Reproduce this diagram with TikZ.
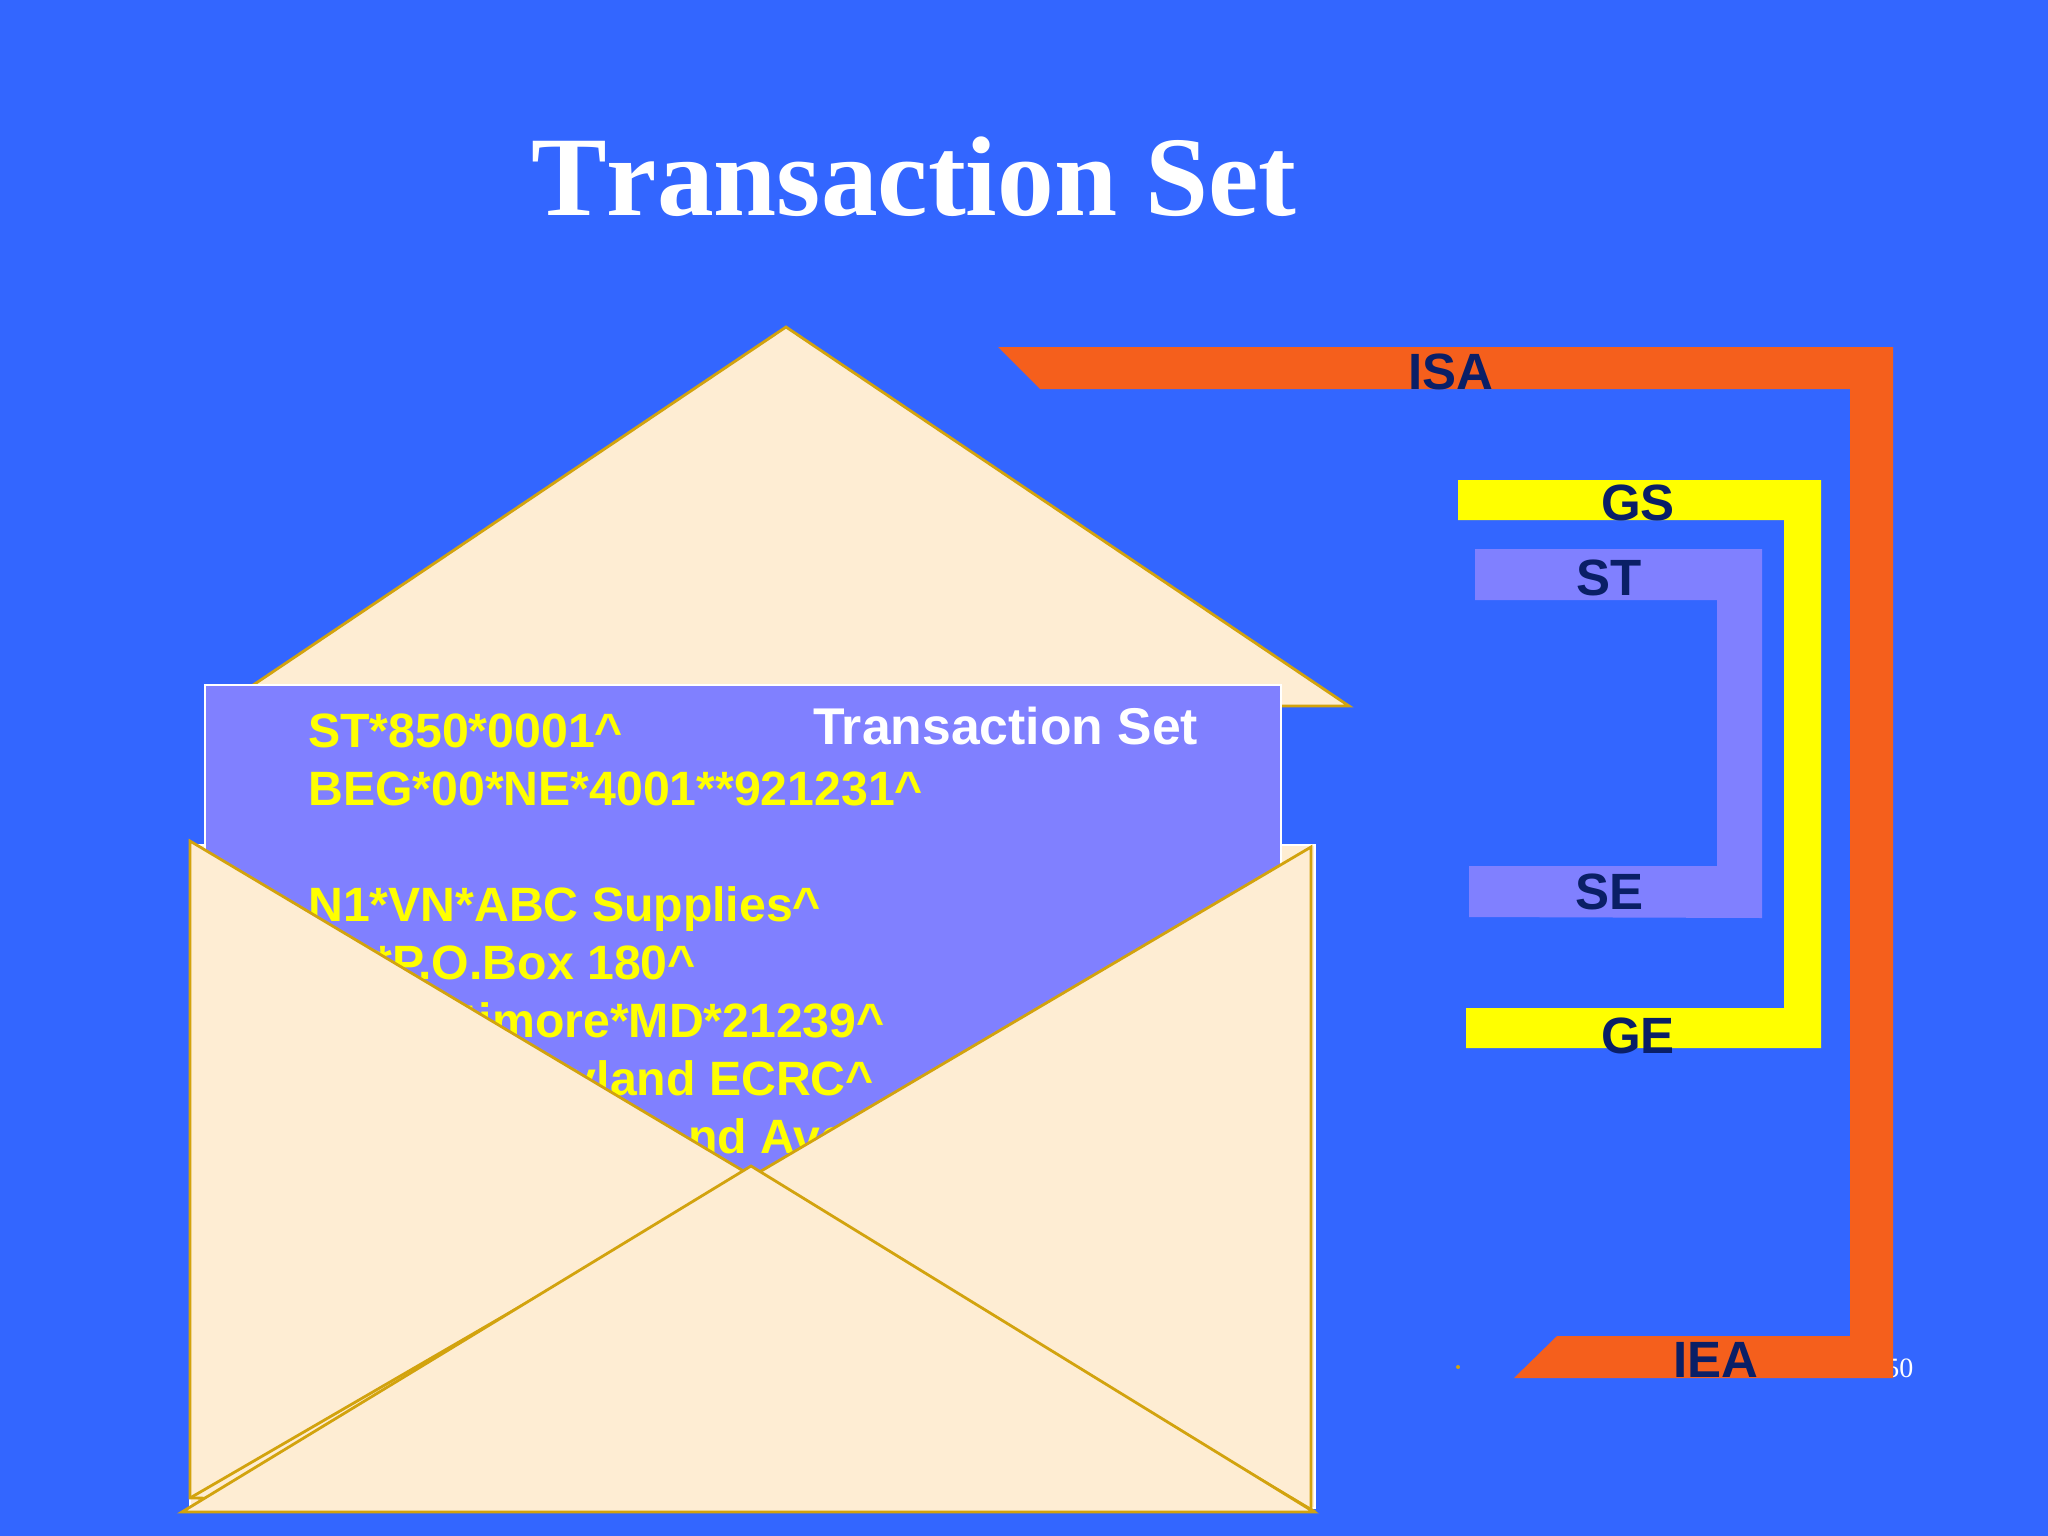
\documentclass[tikz,border=0pt]{standalone}
\usepackage{fontspec}
\setmainfont{Liberation Sans}
\newfontfamily\serifface{Liberation Serif}
\newfontfamily\titleface[Kerning=Off]{Liberation Serif}
\definecolor{bgblue}{HTML}{3366FF}
\definecolor{cream}{HTML}{FEEDD3}
\definecolor{gold}{HTML}{D2A30E}
\definecolor{violet}{HTML}{8080FF}
\definecolor{isaorange}{HTML}{F55F1C}
\definecolor{navy}{HTML}{0A1F66}
\definecolor{signyellow}{HTML}{FFFF00}
\tikzset{
  paper/.style={fill=cream,draw=gold,line width=2.8pt,line join=miter},
  payload/.style={inner sep=0pt,font=\fontsize{48.2}{58}\selectfont\bfseries,text=signyellow},
  barlabel/.style={inner sep=0pt,font=\fontsize{51}{58}\selectfont\bfseries,text=navy},
}
\begin{document}
\begin{tikzpicture}[x=1pt,y=-1pt]
\useasboundingbox (0,0) rectangle (2048,1536);
\fill[bgblue] (0,0) rectangle (2048,1536);
% title
\node[inner sep=0pt,anchor=base west,text=white,font=\titleface\fontsize{113.4}{130}\selectfont\bfseries] (title) at (531,215.5) {Transaction Set};
% page number, partly behind the bar
\node[inner sep=0pt,anchor=base east,text=white,font=\serifface\fontsize{28}{32}\selectfont] (pageno) at (1913.5,1377) {50};
\fill[gold] (1458,1367) circle (2pt);
% envelope back and top flap
\draw[fill=cream,draw=white,line width=2pt] (190,845) rectangle (1315,1508);
\draw[paper] (222,706) -- (786,327) -- (1349,706) -- cycle;
% letter sheet
\draw[fill=violet,draw=white,line width=2.5pt] (205,685) rectangle (1281,1200);
\node[payload,anchor=base west] (l1) at (308,747) {ST*850*0001\^{}};
\node[payload,anchor=base west] (l2) at (308,805) {BEG*00*NE*4001**921231\^{}};
\node[payload,anchor=base west] (l3) at (308,921) {N1*VN*ABC Supplies\^{}};
\node[payload,anchor=base east] (l4) at (696,979) {*P.O.Box 180\^{}};
\node[payload,anchor=base east] (l5) at (885,1037) {timore*MD*21239\^{}};
\node[payload,anchor=base east] (l6) at (874,1095) {yland ECRC\^{}};
\node[payload,anchor=base west] (l7) at (688,1153) {nd Ave};
\node[inner sep=0pt,anchor=base west,text=white,font=\fontsize{51.7}{60}\selectfont\bfseries] (tset) at (813,744) {Transaction Set};
% envelope front flaps
\draw[paper] (1311,847) -- (186,1510) -- (1311,1510) -- cycle;
\draw[paper] (190,841) -- (1312,1510) -- (190,1498) -- cycle;
\coordinate (foldA) at (190,1498);
\coordinate (foldB) at (590,1266);
\draw[draw=gold,line width=2.8pt] (foldA) -- (foldB);
\draw[paper] (182,1512) -- (751,1166) -- (1314,1512) -- cycle;
% nested segment brackets
\fill[isaorange] (998,347) -- (1893,347) -- (1893,1378) -- (1514,1378) -- (1557,1336) -- (1850,1336) -- (1850,389) -- (1040,389) -- cycle;
\fill[signyellow] (1458,480) -- (1821,480) -- (1821,1048) -- (1466,1048) -- (1466,1008) -- (1784,1008) -- (1784,520) -- (1458,520) -- cycle;
\fill[violet] (1475,549) -- (1762,549) -- (1762,918) -- (1469,917) -- (1469,866) -- (1717,866) -- (1717,600) -- (1475,600) -- cycle;
\node[barlabel,anchor=base west] (isa) at (1408,389) {ISA};
\node[barlabel,anchor=base west] (gs) at (1601,520) {GS};
\node[barlabel,anchor=base west] (st) at (1576,595) {ST};
\node[barlabel,anchor=base west] (se) at (1575,909) {SE};
\node[barlabel,anchor=base west] (ge) at (1601,1053) {GE};
\node[barlabel,anchor=base west] (iea) at (1673,1377) {IEA};
\end{tikzpicture}
\end{document}
